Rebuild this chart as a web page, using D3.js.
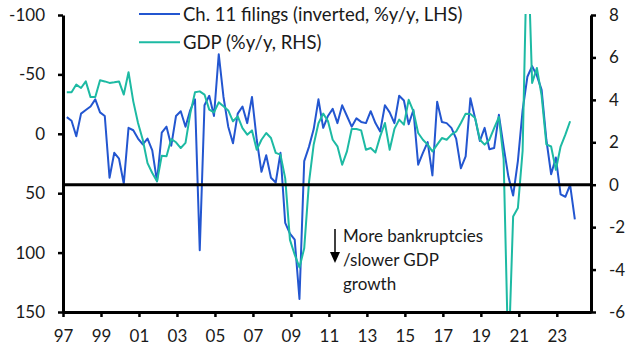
<!DOCTYPE html>
<html>
<head>
<meta charset="utf-8">
<script src="https://cdn.jsdelivr.net/npm/d3@7"></script>
<style>
  body { margin: 0; background: #fff; }
  svg { display: block; font-family: Lato, "Noto Sans", sans-serif; }
</style>
</head>
<body>
<div id="chart"></div>
<script>
const width = 632;
const height = 354;

// quarterly series, first point 1997Q1
const firstYear = 1997;

// Ch. 11 filings, %y/y (plotted inverted on LHS)
const filings = [
  -14, -11, 2, -17,   -20, -23, -29, -18,   -15, 37, 16, 21,   42, -5, -3, 4,
  9, 4, 14, 40,       -1, -6, 10, -15,      -19, -6, -20, -29, 98, -24, -32, -15,
  -67, -31, -6, 8,    -17, -23, -9, -31,    5, 32, 18, 37,     41, 16, 75, 84,
  89, 139, 23, 11,    -4, -29, -5, -15,     -21, -9, -24, -15, -6, -13, -10, -9,
  -19, -9, -2, -24,   -18, -9, -32, -28,    -8, -20, 26, 16,   7, 35, -27, -10,
  -9, -5, 4, 29,      19, -30, -13, 6,      -5, 13, 12, -16,   11, 36, 52, 23,
  -20, -48, -57, -49, -37, 5, 34, 20,       51, 53, 43, 72
];

// GDP, %y/y (RHS)
const gdp = [
  4.36, 4.36, 4.72, 4.56,  4.87, 4.13, 4.13, 4.92,  4.87, 4.80, 4.83, 4.87,
  4.25, 5.30, 3.93, 2.91,  2.12, 1.02, 0.55, 0.16,  1.37, 1.34, 2.15, 2.00,
  1.73, 1.97, 3.35, 4.36,  4.40, 4.25, 3.54, 3.41,  3.88, 3.70, 3.50, 2.99,
  3.22, 2.67, 2.36, 2.56,  1.65, 2.12, 2.44, 2.20,  1.50, 1.42, 0.30, -2.60,
  -3.30, -3.90, -3.00, 0.10, 1.90, 2.90, 3.35, 3.00, 2.12, 1.81, 0.94, 1.57,
  2.63, 2.63, 2.56, 1.65,  1.73, 1.52, 2.28, 2.91,  1.65, 2.63, 3.07, 2.83,
  4.00, 3.46, 2.44, 2.12,  1.89, 1.57, 1.89, 2.20,  2.12, 2.36, 2.51, 2.91,
  3.35, 3.33, 3.14, 2.12,  1.89, 2.12, 2.67, 3.19,  1.20, -8.40, -1.50, -1.10,
  1.60, 12.0, 4.80, 5.50,  4.20, 1.90, 1.80, 0.70,  1.80, 2.36, 2.99
];

const xTicks = d3.range(1997, 2024, 2);
const leftTicks = [-100, -50, 0, 50, 100, 150];
const rightTicks = [8, 6, 4, 2, 0, -2, -4, -6];
const legendLabels = ["Ch. 11 filings (inverted, %y/y, LHS)", "GDP (%y/y, RHS)"];
const noteLines = ["More bankruptcies", "/slower GDP", "growth"];

const blue = "#2356d0";
const teal = "#1dbaa3";
const ink = "#1a1a1a";
const fontSize = 17;
const legendSize = 18.5;

const plot = { left: 63, right: 591, top: 15, bottom: 312 };

const x = d3.scaleLinear().domain([1997, 2024.8]).range([plot.left, plot.right]);
const yL = d3.scaleLinear().domain([-100, 150]).range([plot.top, plot.bottom]);
const yR = d3.scaleLinear().domain([8, -6]).range([plot.top, plot.bottom]);

const dateOf = i => firstYear + i / 4 + 0.2;
const plain = d => String(d); // hyphen minus, like the original

const svg = d3.select("#chart")
  .append("svg")
  .attr("width", width)
  .attr("height", height)
  .attr("viewBox", `0 0 ${width} ${height}`);

svg.append("defs").append("clipPath")
  .attr("id", "plot-clip")
  .append("rect")
  .attr("x", plot.left)
  .attr("y", plot.top - 1)
  .attr("width", plot.right - plot.left)
  .attr("height", plot.bottom - plot.top + 1);

const lines = svg.append("g").attr("clip-path", "url(#plot-clip)");

lines.append("path")
  .datum(filings)
  .attr("fill", "none")
  .attr("stroke", blue)
  .attr("stroke-width", 2)
  .attr("stroke-linejoin", "round")
  .attr("d", d3.line().x((d, i) => x(dateOf(i))).y(d => yL(d)));

lines.append("path")
  .datum(gdp)
  .attr("fill", "none")
  .attr("stroke", teal)
  .attr("stroke-width", 2)
  .attr("stroke-linejoin", "round")
  .attr("d", d3.line().x((d, i) => x(dateOf(i))).y(d => yR(d)));

// zero line of the RHS
svg.append("line")
  .attr("x1", plot.left)
  .attr("x2", plot.right)
  .attr("y1", yR(0))
  .attr("y2", yR(0))
  .attr("stroke", "#000")
  .attr("stroke-width", 3);

function styleAxis(g) {
  g.select(".domain").attr("stroke", "#000").attr("stroke-width", 3);
  g.selectAll(".tick line").attr("stroke", "#000").attr("stroke-width", 2.5);
  g.selectAll(".tick text")
    .attr("fill", ink)
    .style("font-size", fontSize + "px")
    .style("font-family", "Lato, 'Noto Sans', sans-serif");
}

svg.append("g")
  .attr("transform", `translate(${plot.left},0)`)
  .call(d3.axisLeft(yL).tickValues(leftTicks).tickFormat(plain)
    .tickSize(5).tickSizeOuter(0).tickPadding(13))
  .call(styleAxis);

svg.append("g")
  .attr("transform", `translate(${plot.right},0)`)
  .call(d3.axisRight(yR).tickValues(rightTicks).tickFormat(plain)
    .tickSize(5).tickSizeOuter(0).tickPadding(13))
  .call(styleAxis);

svg.append("g")
  .attr("transform", `translate(0,${plot.bottom})`)
  .call(d3.axisBottom(x).tickValues(xTicks).tickSize(5).tickSizeOuter(0).tickPadding(13)
    .tickFormat(d => String(d % 100).padStart(2, "0")))
  .call(styleAxis);

// legend
const legend = svg.append("g");
[blue, teal].forEach((c, i) => {
  const cy = 14 + i * 28.3;
  legend.append("line")
    .attr("x1", 139).attr("x2", 180)
    .attr("y1", cy).attr("y2", cy)
    .attr("stroke", c).attr("stroke-width", 2);
  legend.append("text")
    .attr("x", 183)
    .attr("y", cy + 6.5)
    .attr("fill", ink)
    .style("font-size", legendSize + "px")
    .text(legendLabels[i]);
});

// annotation
const note = svg.append("g");
note.append("line")
  .attr("x1", 335).attr("x2", 335)
  .attr("y1", 229).attr("y2", 253)
  .attr("stroke", "#000").attr("stroke-width", 1.5);
note.append("path")
  .attr("d", "M330,252 L340,252 L335,263 Z")
  .attr("fill", "#000");
note.selectAll("text")
  .data(noteLines)
  .join("text")
  .attr("x", 343)
  .attr("y", (d, i) => 242 + i * 24)
  .attr("fill", ink)
  .style("font-size", fontSize + "px")
  .text(d => d);
</script>
</body>
</html>
